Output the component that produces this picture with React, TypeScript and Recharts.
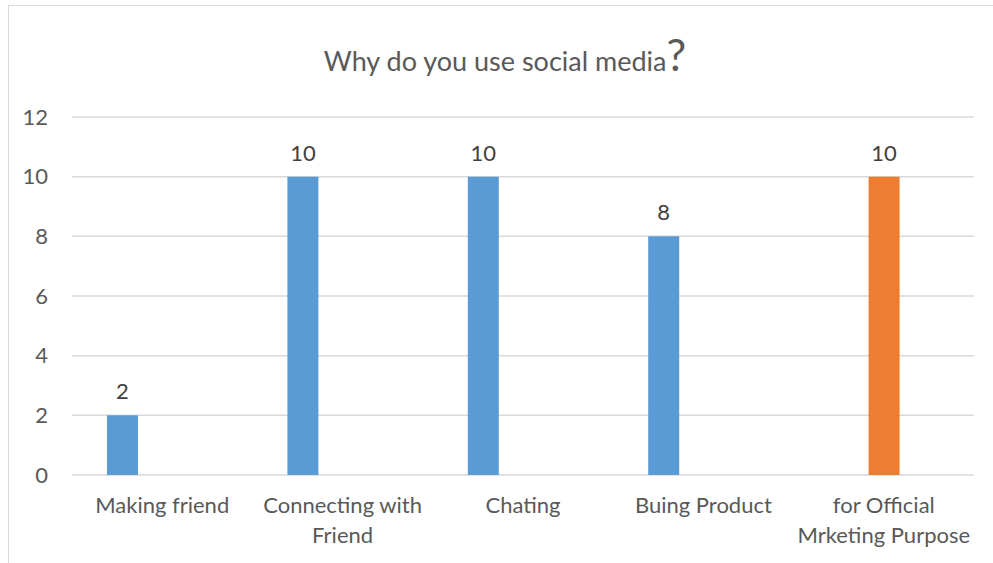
import React from 'react';
import { BarChart, Bar, XAxis, YAxis, CartesianGrid, LabelList } from 'recharts';

const categories = [
  'Making friend',
  'Connecting with\nFriend',
  'Chating',
  'Buing Product',
  'for Official\nMrketing Purpose',
];
const seriesOne = [2, 10, 10, 8, null];
const seriesTwo = [null, null, null, null, 10];
const seriesThree = [null, null, null, null, null];
const yTicks = [0, 2, 4, 6, 8, 10, 12];

const data = categories.map((name, i) => ({
  name,
  s1: seriesOne[i],
  s2: seriesTwo[i],
  s3: seriesThree[i],
}));

const FONT = 'Lato, "Open Sans", sans-serif';
const TEXT = '#595959';

const CategoryTick = (props: any) => {
  const { x, y, payload } = props;
  const lines = String(payload.value).split('\n');
  return (
    <text x={x} y={y} textAnchor="middle" fill={TEXT} fontSize={22} fontFamily={FONT}>
      {lines.map((line, i) => (
        <tspan key={i} x={x} y={y + 38 + i * 30}>
          {line}
        </tspan>
      ))}
    </text>
  );
};

const ValueLabel = (props: any) => {
  const { x, y, width, value } = props;
  if (value == null) return null;
  return (
    <text x={x + width / 2} y={y - 16} textAnchor="middle" fill="#404040" fontSize={22} fontFamily={FONT}>
      {value}
    </text>
  );
};

export default function App() {
  return (
    <div style={{ position: 'absolute', left: 0, top: 0, width: 993, height: 563, overflow: 'hidden', background: '#fff' }}>
      {/* chart frame edges */}
      <div style={{ position: 'absolute', left: 8, top: 5, width: 1000, height: 600, borderTop: '1.5px solid #d9d9d9', borderLeft: '1.5px solid #d9d9d9' }} />
      <BarChart
        width={993}
        height={563}
        data={data}
        margin={{ top: 117, right: 19, bottom: 0, left: 0 }}
        barSize={31}
        barGap={9}
        style={{ position: 'absolute', left: 0, top: 0 }}
      >
        <CartesianGrid vertical={false} stroke="#d9d9d9" strokeWidth={1.5} />
        <XAxis
          dataKey="name"
          height={88}
          axisLine={false}
          tickLine={false}
          tickSize={0}
          tickMargin={0}
          interval={0}
          tick={<CategoryTick />}
        />
        <YAxis
          width={72}
          domain={[0, 12]}
          ticks={yTicks}
          axisLine={false}
          tickLine={false}
          tickSize={0}
          tickMargin={24}
          tick={{ fill: TEXT, fontSize: 22, fontFamily: FONT }}
        />
        <Bar dataKey="s1" fill="#5B9BD5" isAnimationActive={false}>
          <LabelList dataKey="s1" content={<ValueLabel />} />
        </Bar>
        <Bar dataKey="s2" fill="#ED7D31" isAnimationActive={false}>
          <LabelList dataKey="s2" content={<ValueLabel />} />
        </Bar>
        <Bar dataKey="s3" fill="#A5A5A5" isAnimationActive={false} />
      </BarChart>
      <svg width={993} height={100} style={{ position: 'absolute', left: 0, top: 0 }}>
        <text x={505} y={71} textAnchor="middle" fill={TEXT} fontFamily={FONT} fontSize={27}>
          <tspan>Why do you use social media</tspan>
          <tspan fontSize={44}>?</tspan>
        </text>
      </svg>
    </div>
  );
}
